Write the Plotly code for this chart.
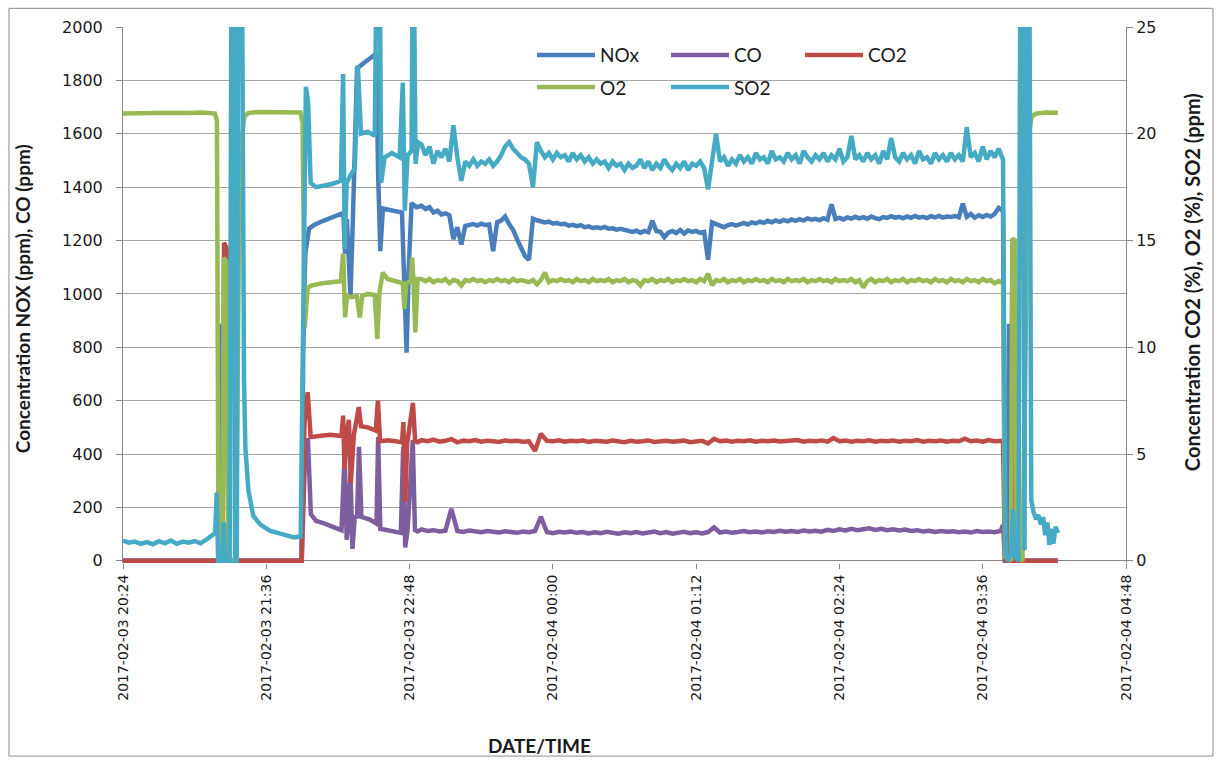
import plotly.graph_objects as go
import pandas as pd

T0 = pd.Timestamp("2017-02-03 20:24")
X_END = pd.Timestamp("2017-02-04 04:48")

# ---- sampling grids for the steady middle section (minutes after 20:24) ----
MID_T2 = list(range(150, 441, 2))   # 146 samples (NOx, O2, SO2)
MID_T3 = list(range(150, 442, 3))   # 98 samples (CO, CO2)

# ---------------- NOx (ppm, left axis) ----------------
NOX_HEAD_T = [0, 48.2, 48.8, 49.4, 50.0, 89.6, 90.6, 91.6, 93.5, 96, 100, 105, 109.5,
              110.8, 111.6, 112.5, 114.3, 115.4, 116.4, 117.6, 121, 124, 127.2, 128.2,
              129.3, 130.6, 135, 140.2, 141.5, 142.5, 143.6, 145.0, 147.5]
NOX_HEAD_V = [0, 0, 880, 880, 0, 0, 800, 1150, 1245, 1258, 1272, 1285, 1300,
              1290, 1150, 1280, 990, 1250, 1600, 1845, 1865, 1880, 1900, 1450,
              1160, 1320, 1312, 1305, 1000, 780, 1100, 1340, 1325]
NOX_MID = [1330, 1318, 1325, 1305, 1312, 1298, 1302, 1295, 1205, 1250,
           1185, 1255, 1258, 1262, 1256, 1263, 1258, 1260, 1160, 1268,
           1275, 1290, 1262, 1240, 1205, 1170, 1142, 1128, 1282, 1276,
           1272, 1268, 1271, 1264, 1266, 1261, 1263, 1256, 1259, 1254,
           1258, 1250, 1253, 1247, 1250, 1246, 1251, 1244, 1246, 1241,
           1244, 1238, 1236, 1232, 1237, 1229, 1236, 1231, 1274, 1236,
           1233, 1212, 1230, 1236, 1228, 1240, 1226, 1238, 1232, 1236,
           1229, 1232, 1128, 1268, 1262, 1255, 1250, 1258, 1262, 1256,
           1263, 1266, 1260, 1268, 1264, 1271, 1266, 1274, 1268, 1275,
           1270, 1277, 1272, 1279, 1274, 1280, 1275, 1283, 1278, 1281,
           1276, 1284, 1278, 1336, 1281, 1285, 1279, 1287, 1282, 1289,
           1283, 1288, 1282, 1290, 1284, 1280, 1288, 1285, 1291, 1286,
           1289, 1283, 1290, 1285, 1292, 1286, 1289, 1284, 1291, 1287,
           1292, 1286, 1290, 1288, 1292, 1287, 1338, 1289, 1300, 1286,
           1295, 1288, 1296, 1290, 1300, 1322]
NOX_TAIL_T = [442.2, 443.2, 444.6, 445.2, 446.0, 446.6, 469.8]
NOX_TAIL_V = [1310, 0, 0, 880, 880, 0, 0]

# ---------------- CO (ppm, left axis) ----------------
CO_HEAD_T = [0, 89.8, 91.3, 92.9, 94.4, 97, 101, 105, 109.8, 111.4, 112.4, 113.3, 114.3,
             115.3, 116.5, 117.6, 118.6, 119.8, 124, 127.4, 128.2, 129.3, 134, 139.6,
             140.8, 141.8, 143, 145.6, 146.7, 148]
CO_HEAD_V = [0, 0, 350, 460, 175, 150, 140, 128, 115, 400, 79, 140, 330,
             45, 170, 160, 427, 165, 155, 140, 464, 120, 112, 105,
             427, 50, 115, 453, 115, 110]
CO_MID = [118, 112, 115, 110, 113, 195, 112, 108, 114, 110,
          107, 112, 109, 106, 111, 108, 105, 110, 107, 112,
          165, 108, 104, 109, 106, 110, 105, 108, 103, 107,
          104, 109, 105, 102, 107, 104, 108, 103, 106, 110,
          104, 108, 102, 106, 109, 104, 107, 103, 108, 125,
          106, 110, 105, 108, 112, 107, 110, 106, 111, 108,
          113, 109, 112, 108, 114, 110, 113, 109, 116, 112,
          118, 114, 120, 115, 118, 122, 116, 120, 115, 118,
          114, 117, 112, 115, 110, 113, 108, 112, 109, 111,
          107, 110, 106, 112, 108, 110, 107, 112]
CO_TAIL_T = [442.2, 443.2, 469.8]
CO_TAIL_V = [135, 0, 0]

# ---------------- CO2 (%, right axis) ----------------
CO2_HEAD_T = [0, 50.0, 50.8, 52.2, 53.0, 89.8, 91.2, 92.8, 94.3, 98, 104, 109.8,
              110.6, 111.3, 112.5, 113.5, 114.5, 116, 118.5, 119.6, 123, 127, 128.1,
              129.2, 133, 137, 140.2, 140.9, 141.8, 142.8, 145.7, 146.8, 148.0]
CO2_HEAD_V = [0, 0, 14.9, 14.6, 0, 0, 6.5, 7.9, 5.8, 5.85, 5.9, 5.85,
              6.8, 4.3, 6.0, 6.6, 3.65, 5.9, 7.2, 6.3, 6.25, 6.1, 7.5,
              5.6, 5.65, 5.6, 5.55, 6.5, 2.75, 5.5, 7.4, 5.6, 5.55]
CO2_MID = [5.65, 5.6, 5.68, 5.58, 5.62, 5.7, 5.55, 5.63, 5.6, 5.66,
           5.58, 5.62, 5.6, 5.57, 5.64, 5.6, 5.62, 5.58, 5.6, 5.15,
           5.95, 5.62, 5.6, 5.65, 5.58, 5.62, 5.6, 5.64, 5.57, 5.62,
           5.6, 5.58, 5.63, 5.6, 5.56, 5.62, 5.58, 5.6, 5.64, 5.57,
           5.6, 5.62, 5.58, 5.6, 5.63, 5.56, 5.6, 5.62, 5.5, 5.72,
           5.6, 5.63, 5.58, 5.62, 5.6, 5.65, 5.58, 5.62, 5.6, 5.64,
           5.59, 5.62, 5.6, 5.66, 5.58, 5.62, 5.6, 5.64, 5.58, 5.75,
           5.6, 5.63, 5.58, 5.62, 5.6, 5.65, 5.58, 5.62, 5.6, 5.64,
           5.58, 5.62, 5.6, 5.66, 5.58, 5.62, 5.6, 5.64, 5.58, 5.62,
           5.6, 5.72, 5.6, 5.64, 5.58, 5.66, 5.6, 5.62]
CO2_TAIL_T = [442.2, 443.2, 446.2, 446.9, 447.9, 448.6, 469.8]
CO2_TAIL_V = [5.62, 0.05, 0, 14.8, 14.6, 0, 0]

# ---------------- O2 (%, right axis) ----------------
O2_HEAD_T = [0, 8, 16, 24, 32, 40, 46.2, 47.2, 48.0, 50.0, 50.6, 52.0, 52.8,
             56.8, 58.2, 59.6, 61.0, 63.0, 68, 76, 84, 89.2, 90.2, 91.3, 92.8,
             95, 100, 105, 109.5, 110.6, 111.6, 112.6, 114.5, 117.5, 119.0, 120.2,
             123, 126.5, 127.8, 128.8, 130.5, 133, 136, 139, 140.6, 141.4, 142.4,
             144.6, 145.3, 146.0, 146.9, 148.0]
O2_HEAD_V = [20.95, 20.98, 20.96, 20.99, 20.97, 21.0, 20.95, 20.6, 0.2, 0.0, 14.2, 14.0, 0.1,
             0.0, 14.5, 19.8, 20.8, 20.98, 21.02, 21.0, 21.03, 21.0, 20.5, 10.9, 12.8,
             12.9, 13.0, 13.05, 13.1, 14.4, 11.4, 12.45, 12.35, 12.4, 11.4, 12.4,
             12.5, 12.45, 10.4, 12.5, 13.5, 13.2, 13.1, 13.0, 13.0, 11.8, 13.0,
             13.1, 14.2, 13.0, 10.7, 13.2]
O2_MID = [13.2, 13.1, 13.2, 13.05, 13.15, 13.1, 13.2, 13.0, 13.15, 13.1,
          12.9, 13.15, 13.1, 13.2, 13.1, 13.15, 13.05, 13.15, 13.1, 13.2,
          13.1, 13.15, 13.05, 13.2, 13.1, 13.15, 13.1, 13.05, 13.15, 12.95,
          13.15, 13.5, 13.05, 13.15, 13.1, 13.2, 13.1, 13.15, 13.05, 13.2,
          13.1, 13.15, 13.05, 13.2, 13.1, 13.15, 13.1, 13.2, 13.05, 13.15,
          13.1, 13.2, 13.05, 13.15, 13.1, 12.9, 13.15, 13.1, 13.2, 13.05,
          13.15, 13.1, 13.2, 13.05, 13.15, 13.1, 13.2, 13.1, 13.15, 13.05,
          13.2, 13.1, 13.45, 12.9, 13.15, 13.1, 13.2, 13.05, 13.15, 13.1,
          13.2, 13.05, 13.15, 13.1, 13.2, 13.1, 13.15, 13.05, 13.2, 13.1,
          13.15, 13.05, 13.2, 13.1, 13.15, 13.1, 13.2, 13.05, 13.15, 13.1,
          13.2, 13.1, 13.15, 13.05, 13.2, 13.1, 13.15, 13.1, 13.2, 13.05,
          13.15, 12.8, 13.1, 13.2, 13.05, 13.15, 13.1, 13.2, 13.05, 13.15,
          13.1, 13.2, 13.05, 13.15, 13.1, 13.2, 13.1, 13.15, 13.05, 13.2,
          13.1, 13.15, 13.05, 13.2, 13.1, 13.15, 13.05, 13.2, 13.1, 13.15,
          13.05, 13.2, 13.1, 13.15, 13.0, 13.1]
O2_TAIL_T = [442.2, 443.2, 446.2, 446.9, 448.3, 449.0, 452.0, 453.5, 455.0, 456.5, 459, 464, 469.8]
O2_TAIL_V = [13.0, 0.2, 0, 15.1, 15.0, 0.2, 0, 12, 19.8, 20.8, 20.95, 21.0, 20.98]

# ---------------- SO2 (ppm, right axis) ----------------
SO2_HEAD_T = [0, 3, 6, 9, 12, 15, 18, 21, 24, 27, 30, 33, 36, 39, 42,
              44.5, 46.3, 47.1, 47.8, 49.8, 50.6, 51.4, 53.6, 54.6, 55.6, 56.3,
              57.2, 58.0, 59.6, 60.8, 61.5, 63.0, 65.5, 69, 74, 80, 86,
              89.3, 90.6, 91.9, 93.0, 94.3, 97, 101, 105, 109.5, 110.6, 111.4,
              112.4, 114, 116.5, 118.0, 119.6, 123, 126.5, 127.8, 128.8, 129.7,
              131.5, 135, 139, 140.6, 141.6, 143, 145.0, 145.8, 147.0, 148.3]
SO2_HEAD_V = [0.95, 0.85, 0.9, 0.8, 0.88, 0.78, 0.92, 0.82, 0.95, 0.8, 0.9, 0.85, 0.93, 0.82, 1.0,
              1.2, 1.3, 3.2, 0, 0, 1.8, 0, 0, 32, 32, 0,
              0, 32, 32, 8.5, 5.3, 3.3, 2.1, 1.7, 1.4, 1.25, 1.1,
              1.15, 10, 22.2, 21.5, 17.7, 17.5, 17.55, 17.65, 17.8, 22.8, 14.6,
              17.7, 18.0, 18.4, 23.2, 20.0, 20.1, 19.9, 32, 32, 17.7,
              18.9, 19.1, 18.9, 22.4, 16.4, 19.0, 19.2, 32, 18.6, 19.6]
SO2_MID = [19.5, 19.0, 19.4, 18.6, 19.2, 18.9, 19.3, 18.7, 20.4, 18.9,
           17.8, 18.7, 18.5, 18.8, 18.5, 18.7, 18.6, 18.8, 18.5, 18.7,
           19.0, 19.4, 19.6, 19.3, 19.1, 18.9, 18.8, 18.6, 17.5, 19.6,
           19.2, 18.9, 19.1, 18.8, 19.1, 18.9, 19.0, 18.7, 19.1, 18.8,
           19.0, 18.7, 18.9, 18.6, 18.8, 18.6, 18.7, 18.4, 18.7, 18.5,
           18.6, 18.3, 18.6, 18.4, 18.5, 18.8, 18.4, 18.7, 18.3, 18.6,
           18.4, 18.8, 18.5, 18.3, 18.6, 18.4, 18.7, 18.3, 18.6, 18.5,
           18.7, 18.4, 17.4, 18.6, 20.0, 18.7, 18.9, 18.5, 18.8, 18.6,
           19.0, 18.7, 18.9, 18.6, 19.1, 18.8, 18.9, 18.6, 19.2, 18.8,
           18.9, 18.7, 19.1, 18.8, 19.0, 18.6, 19.2, 18.9, 18.7, 19.0,
           18.8, 19.1, 18.7, 19.0, 18.8, 19.3, 18.7, 18.9, 19.9, 18.8,
           19.0, 18.7, 19.1, 18.8, 19.0, 18.6, 19.2, 18.8, 19.8, 18.9,
           18.7, 19.1, 18.8, 19.0, 18.6, 19.2, 18.8, 18.9, 18.6, 19.1,
           18.8, 19.0, 18.7, 19.1, 18.8, 19.0, 18.7, 20.3, 18.9, 19.1,
           18.7, 19.4, 18.8, 19.2, 18.9, 19.3]
SO2_TAIL_T = [442.2, 443.4, 444.5, 446.3, 447.2, 448.3, 450.0, 451.0, 452.3, 453.0, 453.9,
              455.3, 456.4, 457.5, 458.8, 460.0, 461.2, 462.4, 463.4, 464.5, 465.5, 466.5,
              467.5, 468.6, 469.8]
SO2_TAIL_V = [18.8, 0.4, 0, 0.3, 2.4, 0.2, 0, 32, 32, 0.5, 32,
              32, 2.85, 2.3, 1.95, 2.15, 1.7, 2.05, 1.2, 1.8, 0.75, 1.5,
              0.8, 1.6, 1.3]

NAMES = ["NOx", "CO", "CO2", "O2", "SO2"]
COLORS = ["#4A7EBB", "#7D5FA0", "#BE4B48", "#98B954", "#46AAC5"]

X_TICKS = [T0 + pd.Timedelta(minutes=72 * k) for k in range(8)]
Y_LEFT_TICKS = list(range(0, 2001, 200))
Y_RIGHT_TICKS = [0, 5, 10, 15, 20, 25]


def to_time(minutes):
    return [T0 + pd.Timedelta(minutes=m) for m in minutes]


series = [
    (NOX_HEAD_T + MID_T2 + NOX_TAIL_T, NOX_HEAD_V + NOX_MID + NOX_TAIL_V, "y", "legend"),
    (CO_HEAD_T + MID_T3 + CO_TAIL_T, CO_HEAD_V + CO_MID + CO_TAIL_V, "y", "legend"),
    (CO2_HEAD_T + MID_T3 + CO2_TAIL_T, CO2_HEAD_V + CO2_MID + CO2_TAIL_V, "y2", "legend"),
    (O2_HEAD_T + MID_T2 + O2_TAIL_T, O2_HEAD_V + O2_MID + O2_TAIL_V, "y2", "legend2"),
    (SO2_HEAD_T + MID_T2 + SO2_TAIL_T, SO2_HEAD_V + SO2_MID + SO2_TAIL_V, "y2", "legend2"),
]

fig = go.Figure()
for (t, v, ax, lg), name, col in zip(series, NAMES, COLORS):
    fig.add_trace(go.Scatter(
        x=to_time(t), y=v, name=name, mode="lines", yaxis=ax, legend=lg,
        line=dict(color=col, width=4.5), hoverinfo="skip",
    ))

TICKFONT = dict(family="DejaVu Sans", size=16, color="#1a1a1a")
AXC = "#868686"
LEGFONT = dict(family="Lato", size=19, color="#1a1a1a")

# a small margin below zero (same fraction on both y axes) so the zero-level
# lines are not half clipped by the plot area
fig.update_layout(
    width=1221, height=763,
    margin=dict(l=123, r=95, t=27, b=200),
    paper_bgcolor="white", plot_bgcolor="white",
    showlegend=True,
    xaxis=dict(
        type="date", range=[T0, X_END], tickvals=X_TICKS,
        tickformat="%Y-%m-%d %H:%M", tickangle=-90,
        tickfont=dict(family="DejaVu Sans", size=14, color="#1a1a1a"),
        showgrid=False, showline=False,
        ticks="outside", ticklen=5, tickcolor=AXC, zeroline=False,
    ),
    yaxis=dict(
        range=[-8, 2000], tickvals=Y_LEFT_TICKS, tickfont=TICKFONT,
        showgrid=True, gridcolor="#A6A6A6", gridwidth=1,
        showline=True, linecolor=AXC, linewidth=1, ticklabelstandoff=10,
        ticks="outside", ticklen=6, tickcolor=AXC,
        zeroline=True, zerolinecolor=AXC, zerolinewidth=1,
    ),
    yaxis2=dict(
        range=[-0.1, 25], tickvals=Y_RIGHT_TICKS, tickfont=TICKFONT,
        overlaying="y", side="right", showgrid=False,
        showline=True, linecolor=AXC, linewidth=1,
        ticks="outside", ticklen=6, tickcolor=AXC, zeroline=False,
    ),
    legend=dict(
        orientation="h", x=0.4078, y=0.9476, xanchor="left", yanchor="middle",
        font=LEGFONT, itemwidth=58, entrywidth=61,
        bgcolor="rgba(0,0,0,0)", traceorder="normal",
    ),
    legend2=dict(
        orientation="h", x=0.4078, y=0.8876, xanchor="left", yanchor="middle",
        font=LEGFONT, itemwidth=58, entrywidth=61,
        bgcolor="rgba(0,0,0,0)", traceorder="normal",
    ),
    annotations=[
        dict(text="<b>Concentration NOX (ppm), CO (ppm)</b>", xref="paper", yref="paper",
             x=-0.1007, y=0.494, xanchor="center", yanchor="middle",
             textangle=-90, showarrow=False,
             font=dict(family="Lato", size=19, color="#1a1a1a")),
        dict(text="<b>Concentration CO2 (%), O2 (%), SO2 (ppm)</b>", xref="paper", yref="paper",
             x=1.0658, y=0.524, xanchor="center", yanchor="middle",
             textangle=-90, showarrow=False,
             font=dict(family="Lato", size=20, color="#1a1a1a")),
        dict(text="<b>DATE/TIME</b>", xref="paper", yref="paper",
             x=0.4148, y=-0.3408, xanchor="center", yanchor="middle", showarrow=False,
             font=dict(family="Lato", size=19, color="#1a1a1a")),
    ],
    shapes=[
        dict(type="rect", xref="paper", yref="paper",
             x0=-0.1137, x1=1.0867, y0=-0.3602, y1=1.0348,
             line=dict(color="#8C8C8C", width=1), fillcolor="rgba(0,0,0,0)", layer="below"),
    ],
)

fig.write_html("out.html")
